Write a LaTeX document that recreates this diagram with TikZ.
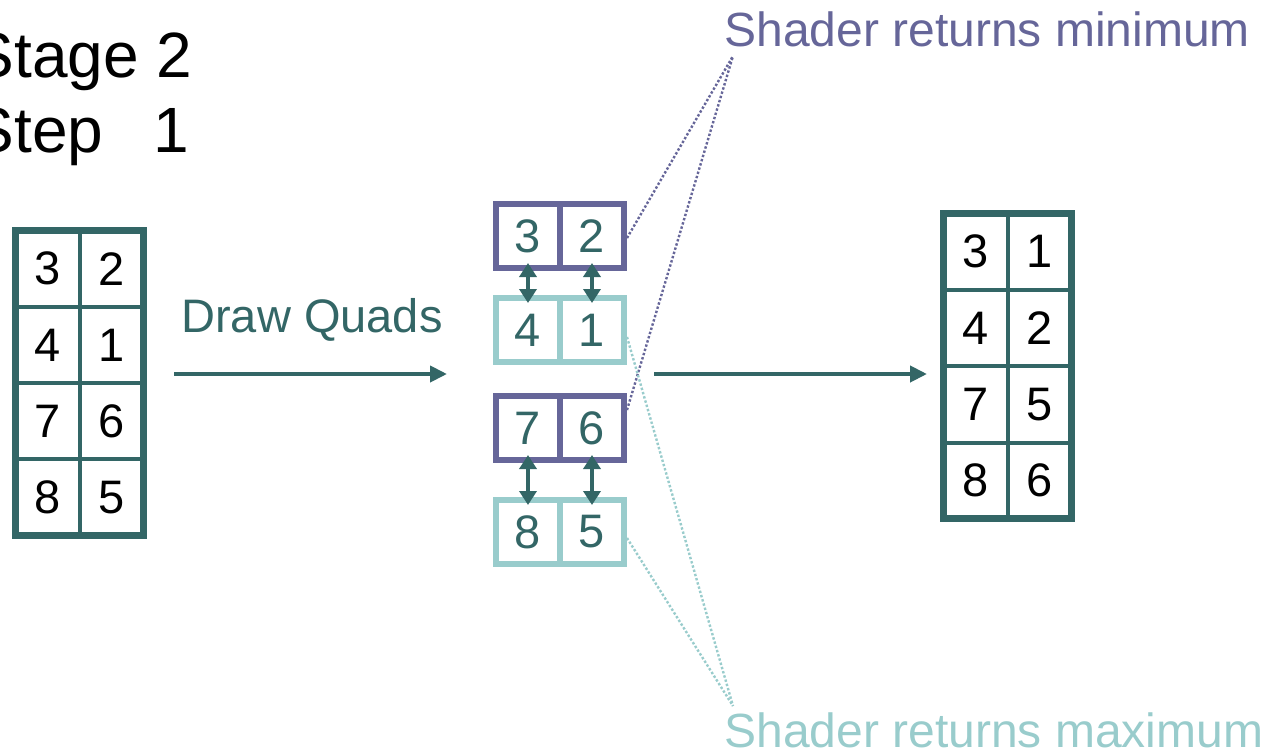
\documentclass[tikz,border=0pt]{standalone}
\usepackage{fontspec}
\setmainfont{Liberation Sans}
\usetikzlibrary{arrows.meta,calc}
\definecolor{dteal}{HTML}{336666}
\definecolor{mpurple}{HTML}{666699}
\definecolor{lteal}{HTML}{99CCCC}
\tikzset{
  gridcell/.style={draw=dteal, line width=4pt, minimum width=64pt, minimum height=76.3pt,
    inner sep=0pt, outer sep=0pt, text=black, font=\fontsize{47}{56}\selectfont},
  gridframe/.style={draw=dteal, line width=7pt},
  quadcell/.style={line width=6pt, minimum width=64pt, minimum height=64pt,
    inner sep=0pt, outer sep=0pt, text=dteal, font=\fontsize{47}{56}\selectfont},
  minq/.style={quadcell, draw=mpurple},
  maxq/.style={quadcell, draw=lteal},
  swaparrow/.style={draw=dteal, line width=4pt,
    {Triangle[length=14pt,width=17pt]}-{Triangle[length=14pt,width=17pt]},
    shorten <=-5pt, shorten >=-5pt},
  passarrow/.style={draw=dteal, line width=4pt, -{Triangle[length=17pt,width=16pt]}},
  dotline/.style={line width=2.4pt, dash pattern=on 2.4pt off 2pt},
  title/.style={anchor=base west, text=black, font=\fontsize{64}{75}\selectfont},
  note/.style={anchor=base west, font=\fontsize{48}{58}\selectfont}
}
\begin{document}
\begin{tikzpicture}[x=1pt,y=-1pt]
\useasboundingbox (0,0) rectangle (1273,754);

% heading
\node[title] (stage) at (-32,78) {Stage 2};
\node[title] (step) at (-32,153) {Step\hspace{50.4pt}1};

% input texture
\node[gridcell] (L11) at (47.5,268.6) {3};
\node[gridcell] (L12) at (111.5,268.6) {2};
\node[gridcell] (L21) at (47.5,344.9) {4};
\node[gridcell] (L22) at (111.5,344.9) {1};
\node[gridcell] (L31) at (47.5,421.2) {7};
\node[gridcell] (L32) at (111.5,421.2) {6};
\node[gridcell] (L41) at (47.5,497.5) {8};
\node[gridcell] (L42) at (111.5,497.5) {5};
\draw[gridframe] (L11.north west) rectangle (L42.south east);

% output texture
\node[gridcell] (R11) at (975.5,251.8) {3};
\node[gridcell] (R12) at (1039.5,251.8) {1};
\node[gridcell] (R21) at (975.5,328.1) {4};
\node[gridcell] (R22) at (1039.5,328.1) {2};
\node[gridcell] (R31) at (975.5,404.4) {7};
\node[gridcell] (R32) at (1039.5,404.4) {5};
\node[gridcell] (R41) at (975.5,480.7) {8};
\node[gridcell] (R42) at (1039.5,480.7) {6};
\draw[gridframe] (R11.north west) rectangle (R42.south east);

% quads
\node[minq] (q1a) at (528,236) {3};
\node[minq] (q1b) at (592,236) {2};
\node[maxq] (q2a) at (528,330) {4};
\node[maxq] (q2b) at (592,330) {1};
\node[minq] (q3a) at (528,428) {7};
\node[minq] (q3b) at (592,428) {6};
\node[maxq] (q4a) at (528,532) {8};
\node[maxq] (q4b) at (592,532) {5};

% comparisons between paired quads
\draw[swaparrow] (q1a.south) -- (q2a.north);
\draw[swaparrow] (q1b.south) -- (q2b.north);
\draw[swaparrow] (q3a.south) -- (q4a.north);
\draw[swaparrow] (q3b.south) -- (q4b.north);

% main flow
\node[anchor=base, text=dteal, font=\fontsize{47}{56}\selectfont] (drawq) at (312,332) {Draw Quads};
\coordinate (in1) at (174,374);
\coordinate (in2) at (447,374);
\coordinate (out1) at (654,374);
\coordinate (out2) at (927,374);
\draw[passarrow] (in1) -- (in2);
\draw[passarrow] (out1) -- (out2);

% annotations
\node[note, text=mpurple] (minlbl) at (721,47) {Shader returns minimum};
\node[note, text=lteal] (maxlbl) at (721,747) {Shader returns maximum};
\coordinate (minpt) at (733,56);
\coordinate (maxpt) at (733,706);
\draw[dotline, mpurple] ($(q1b.east)+(3,2)$) -- (minpt);
\draw[dotline, mpurple] ($(q3b.east)+(3,-18)$) -- (minpt);
\draw[dotline, lteal] ($(q2b.east)+(3,7)$) -- (maxpt);
\draw[dotline, lteal] ($(q4b.east)+(3,6)$) -- (maxpt);
\end{tikzpicture}
\end{document}
